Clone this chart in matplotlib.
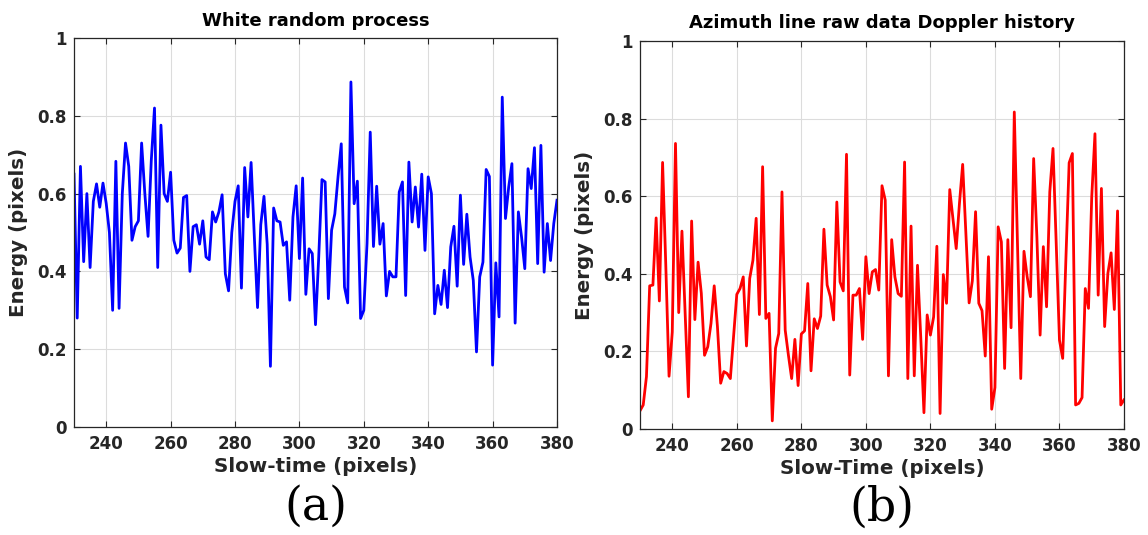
import numpy as np
import matplotlib
matplotlib.use("Agg")
import matplotlib.pyplot as plt

slow_time = list(range(230, 381))

white_energy = [
    0.65, 0.28, 0.67, 0.425, 0.60, 0.41, 0.58, 0.625, 0.565, 0.627,
    0.575, 0.50, 0.30, 0.683, 0.305, 0.60, 0.73, 0.67, 0.48, 0.515,
    0.53, 0.73, 0.60, 0.49, 0.685, 0.82, 0.41, 0.776, 0.60, 0.58,
    0.655, 0.48, 0.447, 0.46, 0.59, 0.595, 0.40, 0.515, 0.52, 0.47,
    0.53, 0.437, 0.43, 0.553, 0.527, 0.553, 0.597, 0.394, 0.35, 0.50,
    0.58, 0.62, 0.357, 0.667, 0.54, 0.68, 0.49, 0.307, 0.52, 0.593,
    0.47, 0.156, 0.563, 0.53, 0.527, 0.467, 0.476, 0.326, 0.54, 0.62,
    0.433, 0.64, 0.341, 0.458, 0.446, 0.263, 0.437, 0.636, 0.63, 0.33,
    0.506, 0.548, 0.643, 0.728, 0.36, 0.319, 0.887, 0.574, 0.632, 0.279,
    0.30, 0.471, 0.758, 0.464, 0.619, 0.47, 0.523, 0.337, 0.40, 0.386,
    0.386, 0.604, 0.63, 0.338, 0.681, 0.527, 0.617, 0.514, 0.65, 0.454,
    0.643, 0.60, 0.291, 0.364, 0.315, 0.403, 0.307, 0.463, 0.516, 0.362,
    0.596, 0.418, 0.547, 0.437, 0.377, 0.193, 0.386, 0.424, 0.662, 0.644,
    0.159, 0.422, 0.283, 0.848, 0.536, 0.617, 0.677, 0.267, 0.553, 0.488,
    0.407, 0.664, 0.613, 0.718, 0.42, 0.724, 0.398, 0.523, 0.428, 0.523,
    0.583,
]

doppler_energy = [
    0.047, 0.062, 0.135, 0.369, 0.371, 0.544, 0.33, 0.687, 0.42, 0.136,
    0.25, 0.736, 0.30, 0.51, 0.30, 0.083, 0.536, 0.282, 0.43, 0.35,
    0.19, 0.212, 0.272, 0.369, 0.264, 0.118, 0.148, 0.143, 0.13, 0.238,
    0.347, 0.362, 0.392, 0.214, 0.388, 0.435, 0.543, 0.295, 0.676, 0.285,
    0.298, 0.021, 0.208, 0.246, 0.611, 0.255, 0.19, 0.13, 0.231, 0.112,
    0.245, 0.253, 0.375, 0.15, 0.284, 0.259, 0.291, 0.515, 0.371, 0.341,
    0.281, 0.585, 0.379, 0.356, 0.708, 0.139, 0.345, 0.345, 0.362, 0.231,
    0.444, 0.349, 0.405, 0.411, 0.358, 0.627, 0.59, 0.137, 0.488, 0.392,
    0.349, 0.342, 0.688, 0.13, 0.523, 0.137, 0.422, 0.238, 0.042, 0.294,
    0.242, 0.289, 0.471, 0.04, 0.398, 0.324, 0.617, 0.542, 0.465, 0.581,
    0.682, 0.504, 0.325, 0.382, 0.56, 0.324, 0.305, 0.188, 0.444, 0.051,
    0.107, 0.521, 0.482, 0.156, 0.488, 0.261, 0.817, 0.474, 0.13, 0.458,
    0.392, 0.341, 0.697, 0.495, 0.242, 0.47, 0.315, 0.611, 0.723, 0.478,
    0.229, 0.182, 0.44, 0.686, 0.71, 0.062, 0.066, 0.081, 0.362, 0.311,
    0.598, 0.761, 0.345, 0.62, 0.264, 0.401, 0.454, 0.308, 0.562, 0.062,
    0.075,
]

x_ticks = [240, 260, 280, 300, 320, 340, 360, 380]
y_ticks = [0, 0.2, 0.4, 0.6, 0.8, 1]
y_tick_labels = ["0", "0.2", "0.4", "0.6", "0.8", "1"]

plt.rcParams['font.family'] = ['DejaVu Sans']
fig = plt.figure(figsize=(11.48, 5.35), dpi=100)

ax1 = fig.add_axes([74/1148, 1-427/535, (557-74)/1148, (427-38)/535])
ax2 = fig.add_axes([640/1148, 1-429/535, (1124-640)/1148, (429-41)/535])

txt = '#262626'
panels = [
    (ax1, white_energy, 'blue', 'White random process', 'Slow-time (pixels)', '(a)'),
    (ax2, doppler_energy, 'red', 'Azimuth line raw data Doppler history', 'Slow-Time (pixels)', '(b)'),
]
for ax, data, color, title, xlabel, tag in panels:
    ax.plot(slow_time, data, color=color, linewidth=2.0)
    ax.set_xlim(230, 380)
    ax.set_ylim(0, 1)
    ax.set_xticks(x_ticks)
    ax.set_yticks(y_ticks)
    ax.set_yticklabels(y_tick_labels)
    ax.grid(True, color='#dcdcdc', linewidth=0.8)
    ax.set_axisbelow(True)
    ax.tick_params(direction='in', length=4, width=0.8, colors=txt,
                   top=True, right=True, labelsize=12)
    ax.tick_params(axis='x', pad=6)
    ax.tick_params(axis='y', pad=5)
    for lab in ax.get_xticklabels() + ax.get_yticklabels():
        lab.set_fontweight('bold')
    for sp in ax.spines.values():
        sp.set_color(txt)
        sp.set_linewidth(0.9)
    ax.set_title(title, fontsize=13, fontweight='bold', color='black', pad=9)
    ax.set_xlabel(xlabel, fontsize=14.3, fontweight='bold', color=txt, labelpad=3)
    ax.set_ylabel('Energy (pixels)', fontsize=14.3, fontweight='bold', color=txt, labelpad=7)
    ax.text(0.5, -0.205, tag, transform=ax.transAxes, ha='center', va='center',
            fontsize=33, family='DejaVu Serif', color='black')

fig.savefig('out.png', dpi=100)
